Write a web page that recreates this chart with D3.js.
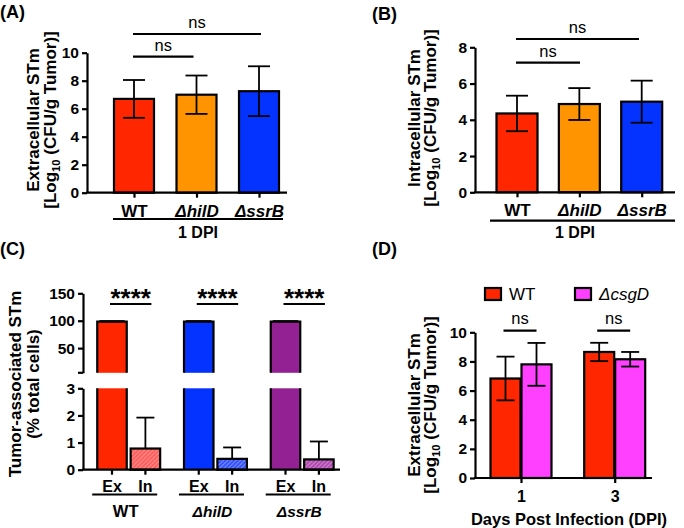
<!DOCTYPE html>
<html><head><meta charset="utf-8">
<script src="https://cdn.jsdelivr.net/npm/d3@7"></script>
<style>
body{margin:0;background:#fff}
svg{display:block}
text{font-family:"Liberation Sans",Arial,Helvetica,sans-serif}
</style>
</head><body>
<svg id="c" width="684" height="528"></svg>
<script>
// ---------- DATA ----------
const catsAB = ["WT", "ΔhilD", "ΔssrB"];
const extraMean = [6.7, 7.0, 7.25];
const extraSD = [1.35, 1.37, 1.78];
const intraMean = [4.35, 4.87, 5.0];
const intraSD = [0.98, 0.88, 1.16];
const ticksA = [0, 2, 4, 6, 8, 10];
const ticksB = [0, 2, 4, 6, 8];

const groupsC = ["WT", "ΔhilD", "ΔssrB"];
const exMean = [98.2, 98.4, 98.4];
const exErr = [1.2, 1.0, 1.0];
const inMean = [0.78, 0.40, 0.38];
const inErr = [1.14, 0.42, 0.66];
const ticksCUpper = [50, 100, 150];
const ticksCLower = [0, 1, 2, 3];

const days = ["1", "3"];
const seriesD = ["WT", "ΔcsgD"];
const wtMean = [6.83, 8.65];
const wtSD = [1.5, 0.63];
const csgMean = [7.8, 8.15];
const csgSD = [1.47, 0.5];
const ticksD = [0, 2, 4, 6, 8, 10];

// ---------- STYLE ----------
const RED = "#ff2600", ORANGE = "#ff9300", BLUE = "#0433ff", PURPLE = "#942193", MAGENTA = "#ff40ff";
const colorsAB = [RED, ORANGE, BLUE];
const colorsC = [RED, BLUE, PURPLE];
const FONT = '"Liberation Sans",Arial,Helvetica,sans-serif';
const LW = 2.2;

const svg = d3.select("#c");
const defs = svg.append("defs");

function hatch(id, base, stripe) {
  const p = defs.append("pattern").attr("id", id).attr("patternUnits", "userSpaceOnUse")
    .attr("width", 3).attr("height", 3).attr("patternTransform", "rotate(45)");
  p.append("rect").attr("width", 3).attr("height", 3).attr("fill", base);
  p.append("line").attr("x1", 0).attr("y1", 0).attr("x2", 0).attr("y2", 3)
    .attr("stroke", stripe).attr("stroke-width", 1.2);
}
hatch("hRed", "#ff5e5e", "#ffb0a8");
hatch("hBlue", "#3552ff", "#a8b4ff");
hatch("hPurple", "#b04cb0", "#e6a6e6");
const hatchC = ["url(#hRed)", "url(#hBlue)", "url(#hPurple)"];

function yAxis(scale, x, ticks) {
  const g = svg.append("g").attr("transform", `translate(${x},0)`)
    .call(d3.axisLeft(scale).tickValues(ticks).tickSize(5).tickPadding(3).tickSizeOuter(0).tickFormat(d3.format("d")));
  g.selectAll("path,line").attr("stroke", "#000").attr("stroke-width", LW);
  g.selectAll("text").attr("font-size", 15.5).attr("font-weight", "bold").attr("font-family", FONT).attr("fill", "#000");
  return g;
}
function xLine(x1, x2, y) {
  svg.append("line").attr("x1", x1).attr("x2", x2).attr("y1", y).attr("y2", y)
    .attr("stroke", "#000").attr("stroke-width", LW);
}
function xTicks(scale, y, fontSize, pad) {
  const g = svg.append("g").attr("transform", `translate(0,${y})`)
    .call(d3.axisBottom(scale).tickSize(5).tickPadding(pad).tickSizeOuter(0));
  g.select(".domain").remove();
  g.selectAll("line").attr("stroke", "#000").attr("stroke-width", LW);
  g.selectAll("text").attr("font-size", fontSize).attr("font-weight", "bold").attr("font-family", FONT)
    .attr("fill", "#000").attr("font-style", d => (String(d).startsWith("Δ") ? "italic" : "normal"));
  return g;
}
function errBar(cx, yTop, yMid, yBot, cap) {
  const g = svg.append("g").attr("stroke", "#000").attr("stroke-width", 1.8).attr("fill", "none");
  g.append("line").attr("x1", cx).attr("x2", cx).attr("y1", yTop).attr("y2", yBot);
  g.append("line").attr("x1", cx - cap / 2).attr("x2", cx + cap / 2).attr("y1", yTop).attr("y2", yTop);
  if (yBot > yMid + 0.5) g.append("line").attr("x1", cx - cap / 2).attr("x2", cx + cap / 2).attr("y1", yBot).attr("y2", yBot);
}
function bracket(x1, x2, y, label, fs, weight, dy) {
  xLine(x1, x2, y);
  svg.append("text").attr("x", (x1 + x2) / 2).attr("y", y - dy).attr("text-anchor", "middle")
    .attr("font-size", fs).attr("font-weight", weight).text(label);
}
function yLabel(cy, line1, line2, x1, x2, fs) {
  svg.append("text").attr("transform", `translate(${x1},${cy}) rotate(-90)`)
    .attr("text-anchor", "middle").attr("dy", "0.36em").attr("font-size", fs).attr("font-weight", "bold").text(line1);
  const t2 = svg.append("text").attr("transform", `translate(${x2},${cy}) rotate(-90)`)
    .attr("text-anchor", "middle").attr("dy", "0.36em").attr("font-size", fs).attr("font-weight", "bold");
  if (line2 === "log") {
    t2.append("tspan").text("[Log");
    t2.append("tspan").attr("font-size", fs * 0.66).attr("dy", 4).text("10");
    t2.append("tspan").attr("dy", -4).text(" (CFU/g Tumor)]");
  } else t2.text(line2);
}
function panelLabel(x, y, s) {
  svg.append("text").attr("x", x).attr("y", y).attr("font-size", 18).attr("font-weight", "bold").text(s);
}

// ---------- PANEL A ----------
{
  const y = d3.scaleLinear().domain([0, 10]).range([192.7, 52.7]);
  const x = d3.scalePoint().domain(catsAB).range([134, 259]);
  const bw = 40;
  catsAB.forEach((c, i) => {
    svg.append("rect").attr("x", x(c) - bw / 2).attr("y", y(extraMean[i])).attr("width", bw)
      .attr("height", y(0) - y(extraMean[i])).attr("fill", colorsAB[i]).attr("stroke", "#000").attr("stroke-width", LW);
    errBar(x(c), y(extraMean[i] + extraSD[i]), y(extraMean[i]), y(extraMean[i] - extraSD[i]), 22);
  });
  xTicks(x, 192.7, 17, 7);
  xLine(86, 287, 192.7);
  yAxis(y, 87, ticksA);
  xLine(113, 283, 219);
  svg.append("text").attr("x", 198).attr("y", 237.5).attr("text-anchor", "middle").attr("font-size", 16).attr("font-weight", "bold").text("1 DPI");
  bracket(x("WT") - 1, x("ΔhilD") - 3, 56.7, "ns", 16.5, "normal", 6);
  bracket(x("WT") - 1, x("ΔssrB") + 2, 34, "ns", 16.5, "normal", 6);
  yLabel(120, "Extracellular STm", "log", 33, 50, 17);
  panelLabel(0, 18, "(A)");
}

// ---------- PANEL B ----------
{
  const y = d3.scaleLinear().domain([0, 8]).range([192.3, 47.3]);
  const x = d3.scalePoint().domain(catsAB).range([517, 641.7]);
  const bw = 41;
  catsAB.forEach((c, i) => {
    svg.append("rect").attr("x", x(c) - bw / 2).attr("y", y(intraMean[i])).attr("width", bw)
      .attr("height", y(0) - y(intraMean[i])).attr("fill", colorsAB[i]).attr("stroke", "#000").attr("stroke-width", LW);
    errBar(x(c), y(intraMean[i] + intraSD[i]), y(intraMean[i]), y(intraMean[i] - intraSD[i]), 22);
  });
  xTicks(x, 192.3, 17, 7);
  xLine(474, 675, 192.3);
  yAxis(y, 475, ticksB);
  xLine(490, 675, 220.7);
  svg.append("text").attr("x", 575).attr("y", 237.5).attr("text-anchor", "middle").attr("font-size", 16).attr("font-weight", "bold").text("1 DPI");
  bracket(516, 580, 62.7, "ns", 16.5, "normal", 6);
  bracket(516, 639, 39, "ns", 16.5, "normal", 6);
  yLabel(118, "Intracellular STm", "log", 414, 430, 17);
  panelLabel(372, 20, "(B)");
}

// ---------- PANEL C ----------
{
  const yU = d3.scaleLinear().domain([5, 150]).range([372.8, 293.3]);
  const yL = d3.scaleLinear().domain([0, 3]).range([469.7, 388.3]);
  const xg = d3.scalePoint().domain(groupsC).range([128.7, 302.2]);
  const inner = d3.scalePoint().domain(["Ex", "In"]).range([-16.7, 16.7]);
  const bw = 29.5;
  const barKeys = [];
  groupsC.forEach((gname, i) => {
    const cxE = xg(gname) + inner("Ex"), cxI = xg(gname) + inner("In");
    barKeys.push(gname + "|Ex", gname + "|In");
    svg.append("rect").attr("x", cxE - bw / 2).attr("y", yU(exMean[i])).attr("width", bw)
      .attr("height", yU(5) - yU(exMean[i])).attr("fill", colorsC[i]);
    svg.append("path").attr("d", `M${cxE - bw / 2},${yU(5)}V${yU(exMean[i])}H${cxE + bw / 2}V${yU(5)}`)
      .attr("fill", "none").attr("stroke", "#000").attr("stroke-width", LW);
    errBar(cxE, yU(exMean[i] + exErr[i]), yU(exMean[i]), yU(exMean[i]), bw - 4);
    svg.append("rect").attr("x", cxE - bw / 2).attr("y", yL(3)).attr("width", bw)
      .attr("height", yL(0) - yL(3)).attr("fill", colorsC[i]);
    svg.append("path").attr("d", `M${cxE - bw / 2},${yL(3)}V${yL(0)}M${cxE + bw / 2},${yL(3)}V${yL(0)}`)
      .attr("fill", "none").attr("stroke", "#000").attr("stroke-width", LW);
    errBar(cxI, yL(inMean[i] + inErr[i]), yL(inMean[i]), yL(inMean[i]), 18);
    svg.append("rect").attr("x", cxI - bw / 2).attr("y", yL(inMean[i])).attr("width", bw)
      .attr("height", yL(0) - yL(inMean[i])).attr("fill", hatchC[i]).attr("stroke", "#000").attr("stroke-width", LW);
    ["Ex", "In"].forEach(k => {
      svg.append("text").attr("x", xg(gname) + inner(k)).attr("y", 492).attr("text-anchor", "middle")
        .attr("font-size", 16).attr("font-weight", "bold").text(k);
    });
    xLine(xg(gname) - 36.5, xg(gname) + 28.5, 494.5);
    svg.append("text").attr("x", xg(gname) - 3).attr("y", 516.5).attr("text-anchor", "middle")
      .attr("font-size", i === 0 ? 16.5 : 15.5).attr("font-weight", "bold").attr("font-style", i === 0 ? "normal" : "italic").text(gname);
    bracket(cxE - 2, cxI + 6, 304, "****", 26, "bold", -3);
  });
  const xb = d3.scaleOrdinal().domain(barKeys).range(barKeys.map(k => { const [g, s] = k.split("|"); return xg(g) + inner(s); }));
  barKeys.forEach(k => {
    svg.append("line").attr("x1", xb(k)).attr("x2", xb(k)).attr("y1", 469.7).attr("y2", 474.7).attr("stroke", "#000").attr("stroke-width", LW);
  });
  xLine(82, 340, 469.7);
  const gu = yAxis(yU, 83, ticksCUpper);
  gu.append("line").attr("x1", -5).attr("x2", 0).attr("y1", yU(5)).attr("y2", yU(5)).attr("stroke", "#000").attr("stroke-width", LW);
  yAxis(yL, 83, ticksCLower);
  yLabel(384, "Tumor-associated STm", "(% total cells)", 15, 33, 17);
  panelLabel(0, 255, "(C)");
}

// ---------- PANEL D ----------
{
  const y = d3.scaleLinear().domain([0, 10]).range([478, 332.3]);
  const xg = d3.scalePoint().domain(days).range([521, 614.7]);
  const xs = d3.scaleBand().domain(seriesD).range([-31, 31]);
  const bw = 30;
  const means = [wtMean, csgMean], sds = [wtSD, csgSD], cols = [RED, MAGENTA];
  days.forEach((d, i) => {
    seriesD.forEach((s, j) => {
      const cx = xg(d) + xs(s) + xs.bandwidth() / 2;
      const m = means[j][i], e = sds[j][i];
      svg.append("rect").attr("x", cx - bw / 2).attr("y", y(m)).attr("width", bw).attr("height", y(0) - y(m))
        .attr("fill", cols[j]).attr("stroke", "#000").attr("stroke-width", LW);
      errBar(cx, y(m + e), y(m), y(m - e), 18);
    });
    const c1 = xg(d) + xs("WT") + xs.bandwidth() / 2, c2 = xg(d) + xs("ΔcsgD") + xs.bandwidth() / 2;
    bracket(c1 - 2, c2, 330.7, "ns", 16.5, "normal", 7);
  });
  xTicks(xg, 478, 16, 8);
  xLine(474, 652, 478);
  yAxis(y, 475, ticksD);
  svg.append("text").attr("x", 569).attr("y", 525).attr("text-anchor", "middle").attr("font-size", 16.5).attr("font-weight", "bold").text("Days Post Infection (DPI)");
  yLabel(405, "Extracellular STm", "log", 414, 430, 17);
  const lx = d3.scalePoint().domain(seriesD).range([485, 575]);
  seriesD.forEach((s, j) => {
    svg.append("rect").attr("x", lx(s)).attr("y", 288).attr("width", 16).attr("height", 12)
      .attr("fill", cols[j]).attr("stroke", "#000").attr("stroke-width", LW);
    svg.append("text").attr("x", lx(s) + 24).attr("y", 300).attr("font-size", 17)
      .attr("font-style", j === 1 ? "italic" : "normal").text(s);
  });
  panelLabel(372, 255, "(D)");
}
</script>
</body></html>
